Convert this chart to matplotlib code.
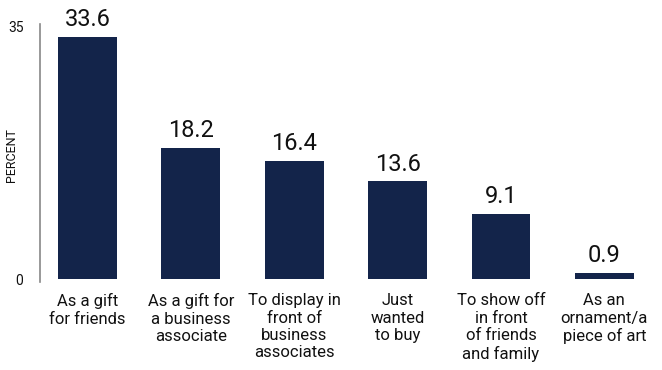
import matplotlib.pyplot as plt

categories = [
    "As a gift\nfor friends",
    "As a gift for\na business\nassociate",
    "To display in\nfront of\nbusiness\nassociates",
    "Just\nwanted\nto buy",
    "To show off\nin front\nof friends\nand family",
    "As an\nornament/a\npiece of art",
]
percent = [33.6, 18.2, 16.4, 13.6, 9.1, 0.9]
value_labels = ["33.6", "18.2", "16.4", "13.6", "9.1", "0.9"]

plt.rcParams['font.family'] = ['Roboto', 'DejaVu Sans']
navy = "#13244a"

fig = plt.figure(figsize=(6.62, 3.70), dpi=100)
ax = fig.add_axes([40 / 662, (370 - 282) / 370, (656 - 40) / 662, (282 - 24) / 370])

x = range(len(categories))
bars = ax.bar(x, percent, width=0.57, color=navy)

for b, lab in zip(bars, value_labels):
    ax.annotate(lab, (b.get_x() + b.get_width() / 2, b.get_height()),
                xytext=(0, 4), textcoords="offset points",
                ha="center", va="bottom", fontsize=17, color="#111111")

ax.set_xlim(-0.46, 5.5)
ax.set_ylim(-0.4, 35.4)
ax.set_yticks([0, 35])
ax.set_yticklabels(["0", "35"], fontsize=10)
ax.set_xticks(list(x))
ax.set_xticklabels(categories, fontsize=12, linespacing=1.2, va="top")
ax.tick_params(axis="both", length=0, pad=8, colors="#111111")
ax.tick_params(axis="y", pad=12)
fig.text(12 / 662, 1 - 155 / 370, "PERCENT", rotation=90, fontsize=9,
         ha="center", va="center", color="#111111")

for s in ["top", "right", "bottom"]:
    ax.spines[s].set_visible(False)
ax.spines["left"].set_color("#888888")
ax.spines["left"].set_linewidth(1.2)

fig.savefig("out.png", dpi=100)
